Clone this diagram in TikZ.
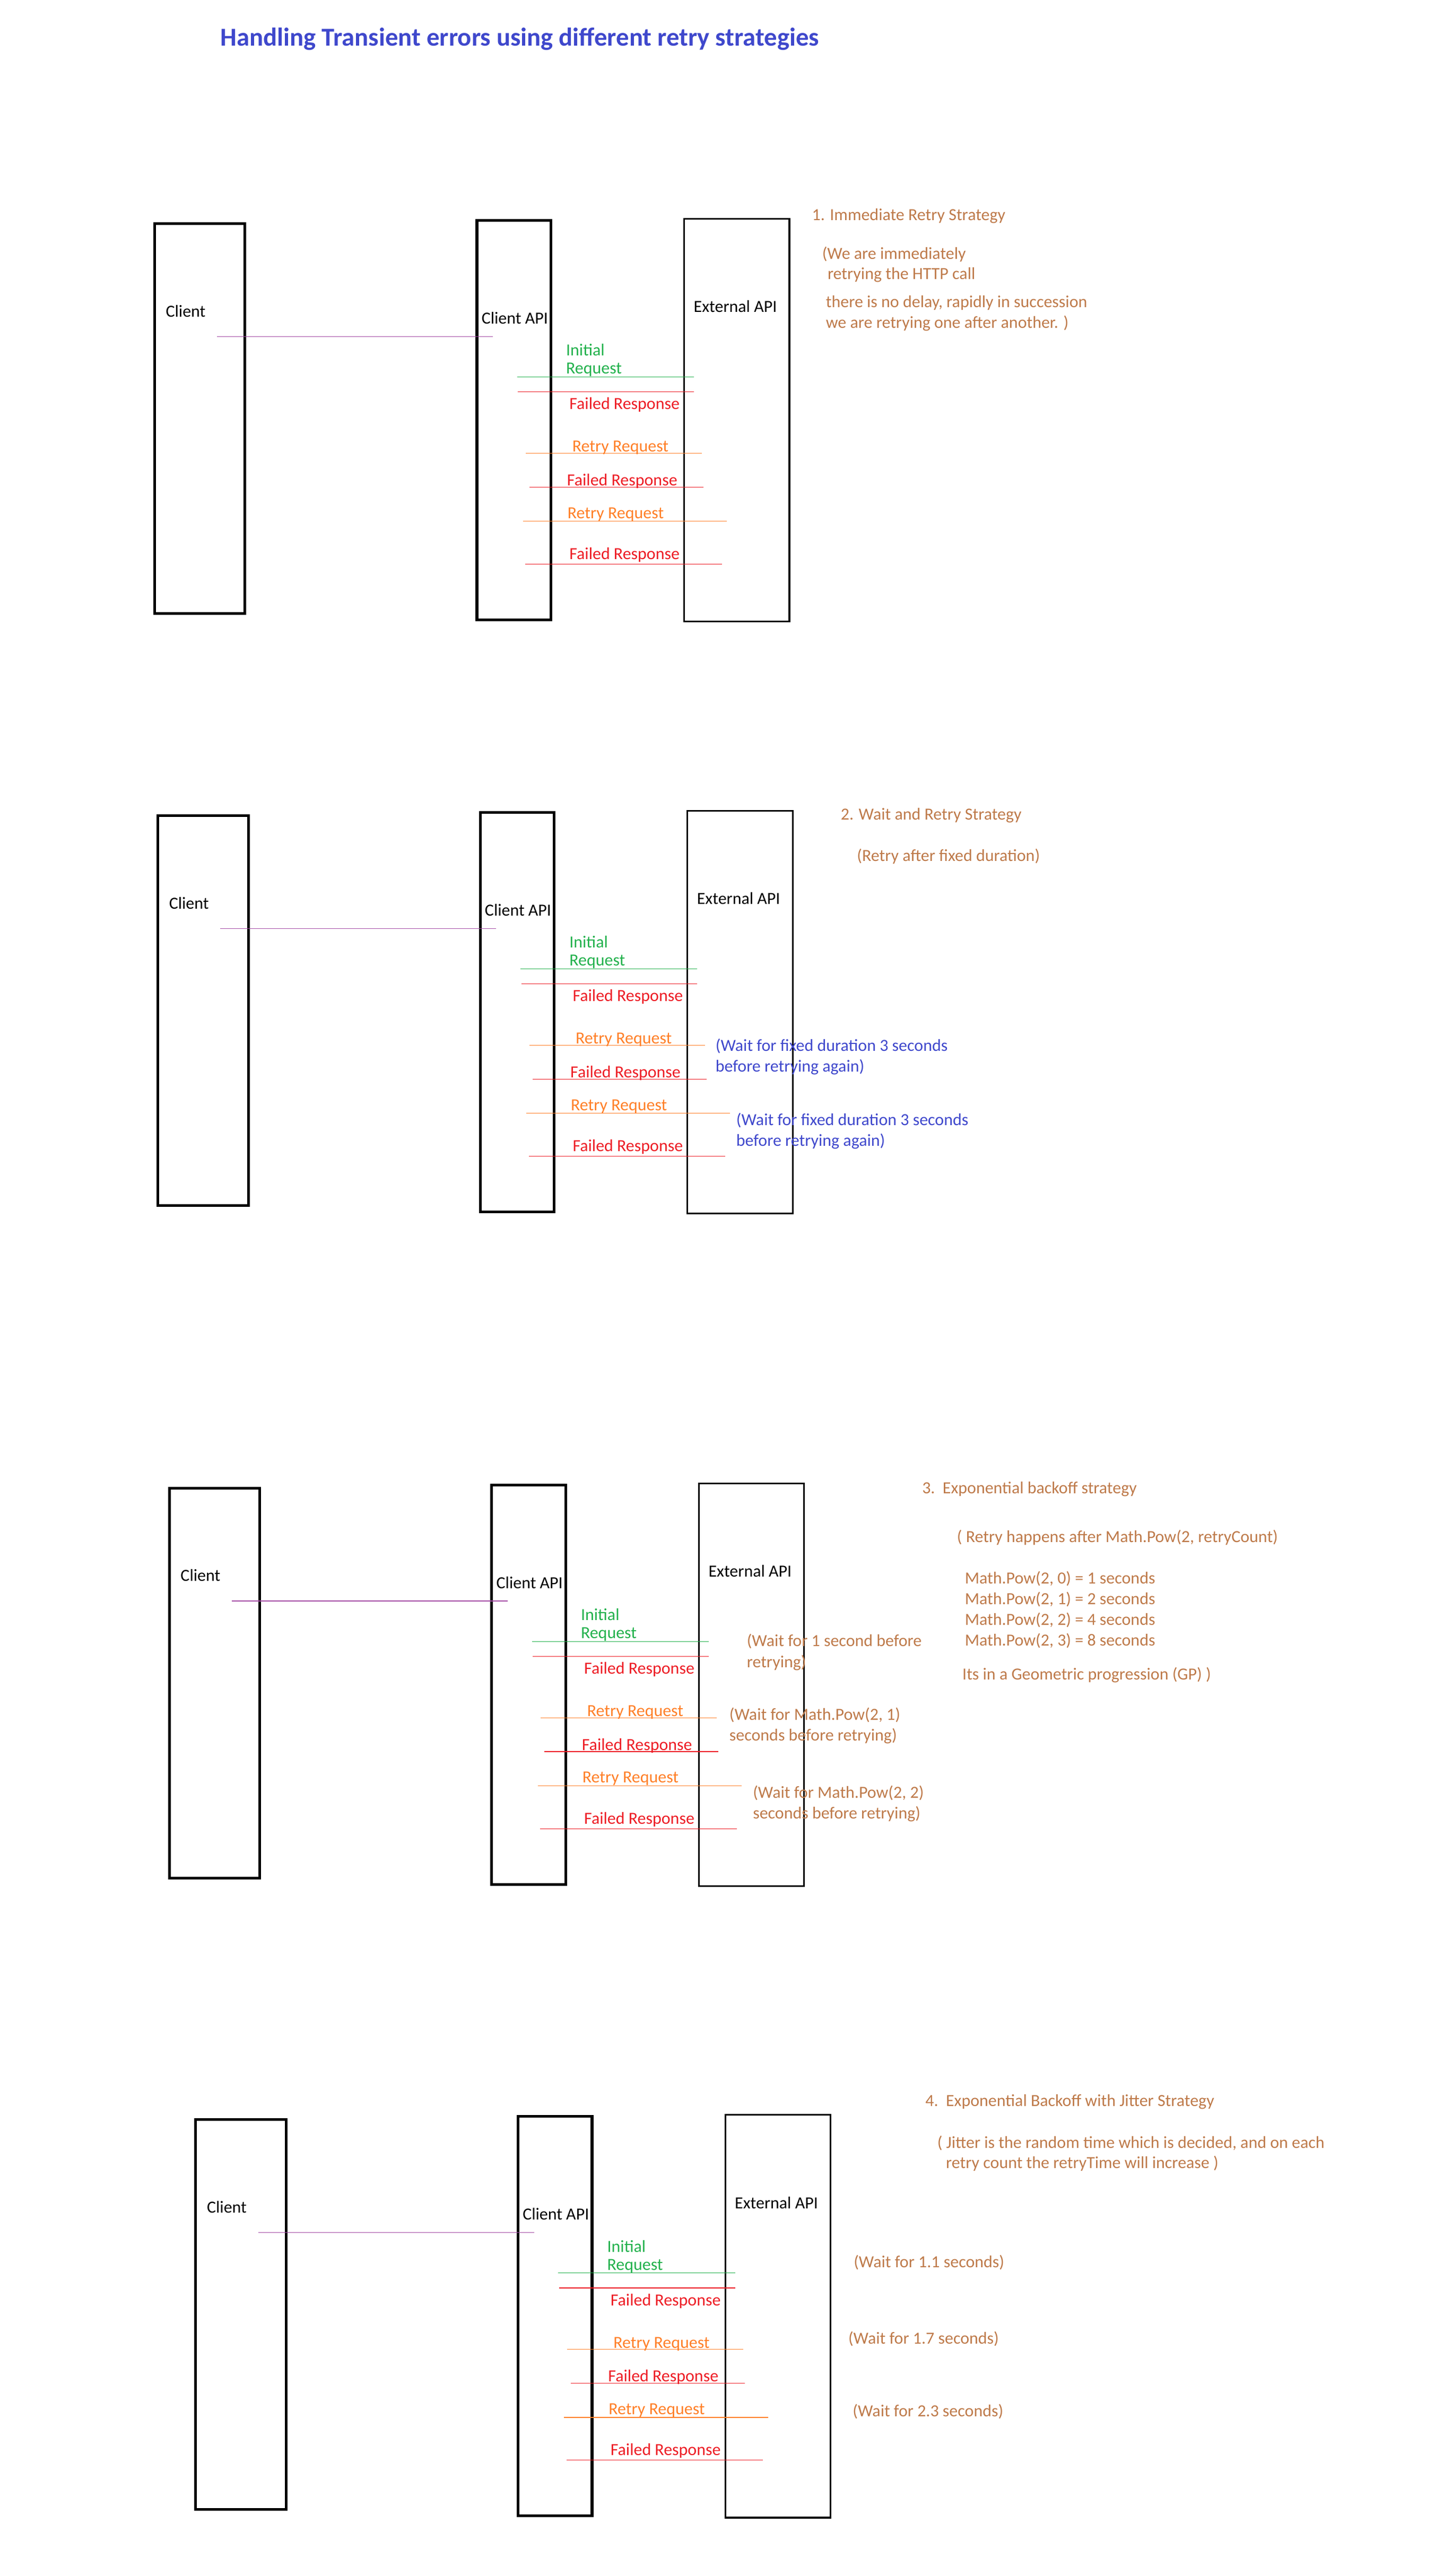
\documentclass[tikz,border=0pt]{standalone}
\usepackage{fontspec}
\setmainfont{Carlito}
\usetikzlibrary{positioning}
\definecolor{titleblue}{RGB}{63,72,204}
\definecolor{waitblue}{RGB}{63,72,204}
\definecolor{notebrown}{RGB}{190,122,74}
\definecolor{reqgreen}{RGB}{34,177,76}
\definecolor{failred}{RGB}{237,28,36}
\definecolor{retryorange}{RGB}{255,127,39}
\definecolor{callpurple}{RGB}{163,73,164}

\begin{document}
\begin{tikzpicture}[x=0.03cm, y=-0.03cm,
    lbl/.style={anchor=base west, inner sep=0pt, font=\fontsize{8.8}{10.4}\selectfont},
    note/.style={lbl, text=notebrown},
    wait/.style={lbl, text=waitblue},
    lanebox/.style={line width=1.4pt},
    extbox/.style={line width=0.85pt},
    msg/.style={line width=0.35pt}]
  \useasboundingbox (0,0) rectangle (882.6,1566.5);
  %title
  \node[lbl, font=\fontsize{13.4}{16}\selectfont\bfseries, text=titleblue] (title) at (133.9,27.8)
    {Handling Transient errors using different retry strategies};

  % the four sequences are the same, only shifted
  \foreach \s/\dx/\dy in {1/0/0, 2/2/360, 3/9/769, 4/25/1153}{
    \begin{scope}[shift={(\dx,\dy)}]
      \draw[lanebox] (94,136) rectangle (149,373);
      \draw[lanebox] (290,134) rectangle (335,377);
      \draw[extbox] (416,133) rectangle (480,378);
      \node[lbl] (client\s) at (100.6,192.6) {Client};
      \node[lbl] (capi\s) at (292.6,197) {Client API};
      \node[lbl] (ext\s) at (421.6,190) {External API};
      \draw[msg, callpurple] (132,204.6) -- (299.7,204.6);
      \foreach \c/\a/\b/\y in {reqgreen/314.4/422/229.2, failred/315/422/238.3,
          retryorange/319.8/426.8/275.6, failred/322/427.8/296.2,
          retryorange/318/442/317, failred/319.5/439/343.1}{
        \draw[msg, \c] (\a,\y) -- (\b,\y);
      }
      \node[lbl, text=reqgreen] (init\s) at (344,216.4) {Initial};
      \node[lbl, text=reqgreen] (req\s) at (344,227.4) {Request};
      \node[lbl, text=failred] (failA\s) at (346,249) {Failed Response};
      \node[lbl, text=retryorange] (retryA\s) at (347.8,274.8) {Retry Request};
      \node[lbl, text=failred] (failB\s) at (344.6,295.4) {Failed Response};
      \node[lbl, text=retryorange] (retryB\s) at (344.9,315.2) {Retry Request};
      \node[lbl, text=failred] (failC\s) at (346,340.2) {Failed Response};
    \end{scope}
  }

  % 1. immediate
  \node[note] (immhead) at (493.5,133.9) {1. Immediate Retry Strategy};
  \node[note] (immA) at (499.7,157.7) {(We are immediately};
  \node[note] (immB) at (503,169.9) {retrying the HTTP call};
  \node[note] (immC) at (502,187.1) {there is no delay, rapidly in succession};
  \node[note] (immD) at (502,199.4) {we are retrying one after another. )};

  % 2. wait and retry
  \node[note] (waithead) at (511,498.4) {2. Wait and Retry Strategy};
  \node[note] (waitA) at (520.9,523.6) {(Retry after fixed duration)};
  \node[wait] (fixA) at (434.9,639.3) {(Wait for fixed duration 3 seconds};
  \node[wait] (fixB) at (434.9,651.9) {before retrying again)};
  \node[wait] (fixC) at (447.5,684.5) {(Wait for fixed duration 3 seconds};
  \node[wait] (fixD) at (447.5,697.1) {before retrying again)};

  % 3. exponential backoff
  \node[note] (exphead) at (560.5,908.4) {3.\ \ Exponential backoff strategy};
  \node[note] (expA) at (581.7,937.9) {( Retry happens after Math.Pow(2, retryCount)};
  \foreach \e/\v/\y in {0/1/963.1, 1/2/975.6, 2/4/988.3, 3/8/1000.8}
    \node[note] (pow\e) at (586.5,\y) {Math.Pow(2, \e) = \v\ seconds};
  \node[note] (expB) at (585,1021.4) {Its in a Geometric progression (GP) )};
  \node[note] (expwA) at (453.9,1001.3) {(Wait for 1 second before};
  \node[note] (expwB) at (453.9,1014.2) {retrying)};
  \node[note] (expwC) at (443.3,1045.9) {(Wait for Math.Pow(2, 1)};
  \node[note] (expwD) at (443.3,1058.6) {seconds before retrying)};
  \node[note] (expwE) at (457.6,1093.4) {(Wait for Math.Pow(2, 2)};
  \node[note] (expwF) at (457.6,1106.1) {seconds before retrying)};

  % 4. jitter
  \node[note] (jithead) at (562.5,1280.9) {4.\ \ Exponential Backoff with Jitter Strategy};
  \node[note] (jitA) at (569.7,1306.4) {( Jitter is the random time which is decided, and on each};
  \node[note] (jitB) at (575,1318.6) {retry count the retryTime will increase )};
  \node[note] (jitwA) at (518.9,1379) {(Wait for 1.1 seconds)};
  \node[note] (jitwB) at (515.6,1425.2) {(Wait for 1.7 seconds)};
  \node[note] (jitwC) at (518.3,1469.5) {(Wait for 2.3 seconds)};
\end{tikzpicture}
\end{document}
